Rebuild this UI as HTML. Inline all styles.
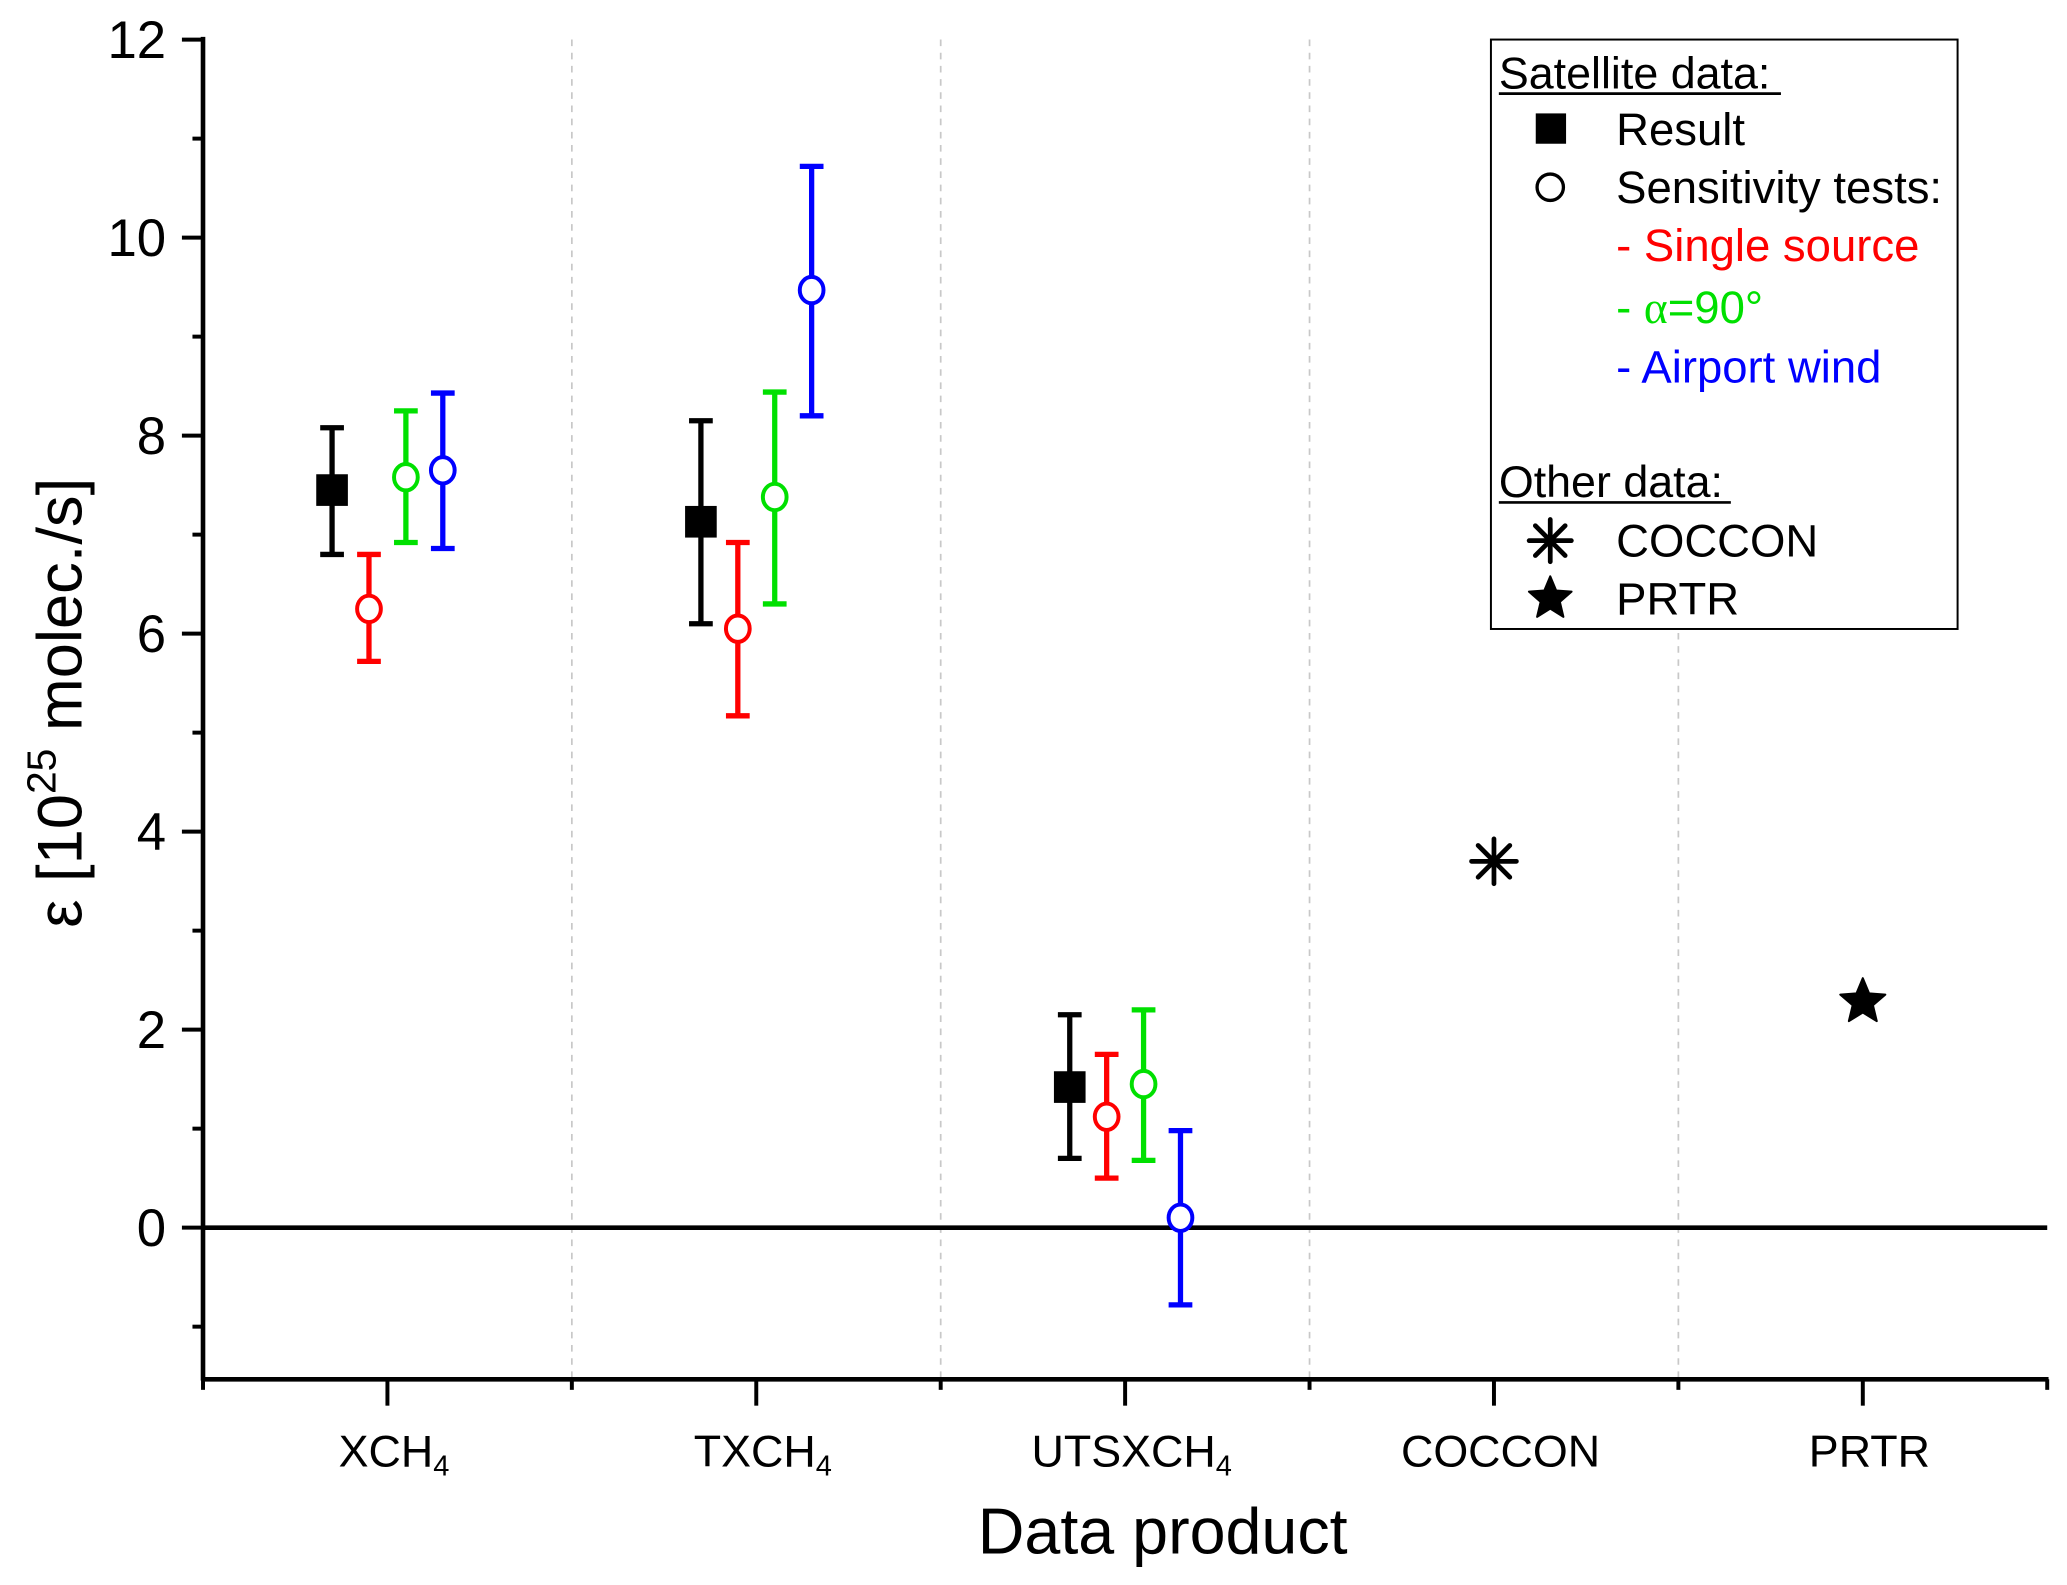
<!DOCTYPE html>
<html><head><meta charset="utf-8"><style>
html,body{margin:0;padding:0;background:#fff;}
svg{display:block;font-family:"Liberation Sans",sans-serif;}
</style></head><body>
<svg id="chart" width="2067" height="1585" viewBox="0 0 1568 1202" preserveAspectRatio="none" xmlns="http://www.w3.org/2000/svg">
<g id="grid"></g>
<g id="axes"></g>
<g id="marks"></g>
<text x="882" y="1178" font-size="49" text-anchor="middle">Data product</text>
<text transform="translate(62,533) rotate(-90)" font-size="48" text-anchor="middle">ε [10<tspan font-size="31" dy="-20">25</tspan><tspan dy="20"> molec./s]</tspan></text>
<g>
<rect x="1131" y="30" width="354" height="447" fill="#fff" stroke="#000" stroke-width="1.5"/>
<text x="1137" y="67" font-size="34">Satellite data:</text>
<line x1="1137" y1="71" x2="1351" y2="71" stroke="#000" stroke-width="2"/>
<rect x="1165" y="86" width="23" height="23" fill="#000"/>
<text x="1226" y="110" font-size="34.5">Result</text>
<circle cx="1176" cy="142" r="10" fill="#fff" stroke="#000" stroke-width="2.5"/>
<text x="1226" y="154" font-size="34.5">Sensitivity tests:</text>
<text x="1226" y="198" font-size="34.5" fill="#ff0000">- Single source</text>
<text x="1226" y="245" font-size="34.5" fill="#00e000">- <tspan font-family="Liberation Serif">α</tspan>=90°</text>
<text x="1226" y="290" font-size="34.5" fill="#0000ff">- Airport wind</text>
<text x="1137" y="377" font-size="34">Other data:</text>
<line x1="1137" y1="381" x2="1313" y2="381" stroke="#000" stroke-width="2"/>
<g id="legAst"></g>
<text x="1226" y="422" font-size="34.5">COCCON</text>
<g id="legStar"></g>
<text x="1226" y="466" font-size="34.5">PRTR</text>
</g>
</svg>
<script>
const categories = ["XCH4","TXCH4","UTSXCH4","COCCON","PRTR"];
const resultVal = [7.45, 7.13, 1.42];
const resultLo  = [6.80, 6.10, 0.70];
const resultHi  = [8.08, 8.15, 2.15];
const singleVal = [6.25, 6.05, 1.12];
const singleLo  = [5.72, 5.17, 0.50];
const singleHi  = [6.80, 6.92, 1.75];
const alphaVal  = [7.58, 7.38, 1.45];
const alphaLo   = [6.92, 6.30, 0.68];
const alphaHi   = [8.25, 8.44, 2.20];
const windVal   = [7.65, 9.47, 0.10];
const windLo    = [6.86, 8.20, -0.78];
const windHi    = [8.43, 10.72, 0.98];
const cocconVal = [3.70];
const prtrVal   = [2.28];
const yTicks = [0, 2, 4, 6, 8, 10, 12];

const NS = "http://www.w3.org/2000/svg";
const X0 = 154, X1 = 1553, YB = 1046;
const yScale = v => 931 - v * 75.08;
const xScale = i => X0 + 139.9 + i * 279.8;
function mk(tag, attrs, parent) { const e = document.createElementNS(NS, tag); for (const k in attrs) e.setAttribute(k, attrs[k]); parent.appendChild(e); return e; }
const grid = document.getElementById('grid'), axes = document.getElementById('axes'), marks = document.getElementById('marks');

for (let i = 1; i < categories.length; i++) {
  const x = X0 + i * 279.8;
  const g = mk('line', {x1:x, y1:30, x2:x, y2:YB, stroke:'#c8c8c8', 'stroke-width':1.3, 'stroke-dasharray':'5,5'}, grid);
  
  
}
const za = mk('line', {x1:X0, y1:yScale(0), x2:X1, y2:yScale(0), stroke:'#000', 'stroke-width':3.5}, axes);


const ya = mk('line', {x1:X0, y1:28, x2:X0, y2:YB+1, stroke:'#000', 'stroke-width':3.5}, axes);


const xa = mk('line', {x1:X0-1, y1:YB, x2:X1+1, y2:YB, stroke:'#000', 'stroke-width':3.5}, axes);


for (let v = -1; v <= 12; v++) {
  const major = yTicks.includes(v);
  const t = mk('line', {x1:X0 - (major ? 16 : 8), y1:yScale(v), x2:X0, y2:yScale(v), stroke:'#000', 'stroke-width':3}, axes);
  
  
}
yTicks.forEach(v => {
  const t = mk('text', {x:126, y:yScale(v)+14, 'font-size':40, 'text-anchor':'end'}, axes);
  t.textContent = v;
  
  
});
for (let i = 0; i <= categories.length; i++) {
  const x = X0 + i * 279.8;
  const t = mk('line', {x1:x, y1:YB, x2:x, y2:YB+8, stroke:'#000', 'stroke-width':3}, axes);
  
  
}
categories.forEach((c, i) => {
  const x = xScale(i);
  const t = mk('line', {x1:x, y1:YB, x2:x, y2:YB+20, stroke:'#000', 'stroke-width':3}, axes);
  
  
  const lab = mk('text', {x:x + 5, y:1112, 'font-size':34, 'text-anchor':'middle'}, axes);
  
  
  const m = c.match(/^(.*CH)4$/);
  if (m) {
    lab.appendChild(document.createTextNode(m[1]));
    const s = mk('tspan', {'font-size':22, dy:7}, lab); s.textContent = '4';
  } else lab.textContent = c;
});

const series = [
  {name:'result', v:resultVal, lo:resultLo, hi:resultHi, col:'#000', off:-42, sq:true},
  {name:'single-source', v:singleVal, lo:singleLo, hi:singleHi, col:'#ff0000', off:-14},
  {name:'alpha-90', v:alphaVal, lo:alphaLo, hi:alphaHi, col:'#00e000', off:14},
  {name:'airport-wind', v:windVal, lo:windLo, hi:windHi, col:'#0000ff', off:42}
];
series.forEach(s => {
  s.v.forEach((val, i) => {
    const x = xScale(i) + s.off;
    const g = mk('g', {}, marks);
    
    
    mk('line', {x1:x, y1:yScale(s.lo[i]), x2:x, y2:yScale(s.hi[i]), stroke:s.col, 'stroke-width':4}, g);
    [s.lo[i], s.hi[i]].forEach(e => mk('line', {x1:x-9, y1:yScale(e), x2:x+9, y2:yScale(e), stroke:s.col, 'stroke-width':4}, g));
    if (s.sq) mk('rect', {x:x-12, y:yScale(val)-12, width:24, height:24, fill:'#000'}, g);
    else mk('ellipse', {cx:x, cy:yScale(val), rx:9, ry:10, fill:'#fff', stroke:s.col, 'stroke-width':3}, g);
  });
});
function asterisk(cx, cy, r, parent) {
  for (let k = 0; k < 4; k++) {
    const a = k * Math.PI / 4;
    mk('line', {x1:cx - r*Math.cos(a), y1:cy - r*Math.sin(a), x2:cx + r*Math.cos(a), y2:cy + r*Math.sin(a), stroke:'#000', 'stroke-width':3.6, 'stroke-linecap':'round'}, parent);
  }
}
function star(cx, cy, r, parent) {
  let p = [];
  for (let k = 0; k < 10; k++) {
    const a = -Math.PI/2 + k * Math.PI / 5, rr = k % 2 ? r*0.45 : r;
    p.push((cx + rr*Math.cos(a)).toFixed(1) + ',' + (cy + rr*Math.sin(a)).toFixed(1));
  }
  mk('polygon', {points:p.join(' '), fill:'#000', stroke:'#000', 'stroke-width':1.5, 'stroke-linejoin':'round'}, parent);
}
cocconVal.forEach(v => {
  const g = mk('g', {}, marks);
  
  
  asterisk(xScale(3), yScale(v), 17, g);
});
prtrVal.forEach(v => {
  const g = mk('g', {}, marks);
  
  
  star(xScale(4), yScale(v), 18, g);
});
asterisk(1176, 410, 16, document.getElementById('legAst'));
star(1176, 454, 17, document.getElementById('legStar'));
</script>
</body></html>
